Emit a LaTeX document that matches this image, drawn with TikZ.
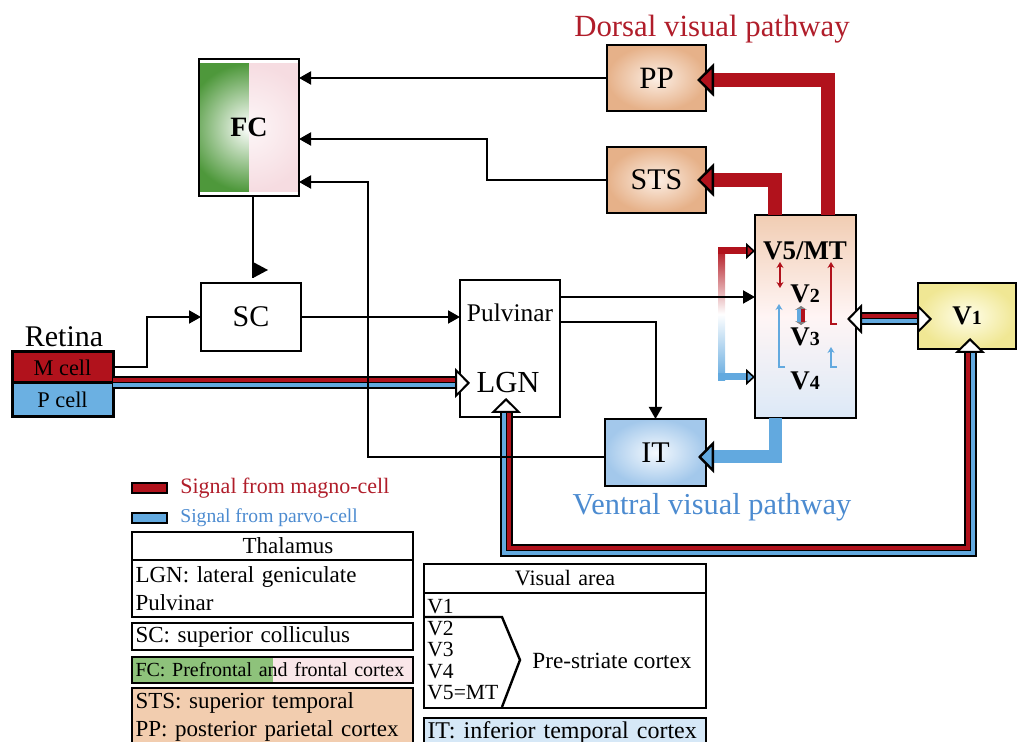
\documentclass[tikz,border=0pt]{standalone}
\usepackage{fontspec}
\setmainfont{Liberation Serif}
\usepackage{tikz}
\usetikzlibrary{positioning,arrows.meta,backgrounds}
\definecolor{mred}{HTML}{B1121C}
\definecolor{pblue}{HTML}{62A9DF}
\definecolor{pcell}{HTML}{6BB0E2}
\definecolor{dorsaltext}{HTML}{B01D2A}
\definecolor{ventraltext}{HTML}{4C8BD0}
\definecolor{peach}{HTML}{E6B189}
\definecolor{peachin}{HTML}{FCEFE5}
\definecolor{itblue}{HTML}{A3C8EB}
\definecolor{itin}{HTML}{F4F9FE}
\definecolor{vyel}{HTML}{F0E794}
\definecolor{vyin}{HTML}{FFFEEA}
\definecolor{vtop}{HTML}{F1CDB3}
\definecolor{vbot}{HTML}{DCE9F7}
\definecolor{fcgreen}{HTML}{4E983B}
\definecolor{fcpink}{HTML}{F6DCE1}
\definecolor{lgreen}{HTML}{8EC27B}
\definecolor{lpink}{HTML}{F9E6E9}
\definecolor{lpeach}{HTML}{F2CDAF}
\definecolor{lblue}{HTML}{D6E8F7}
\newcommand{\fsz}[1]{\fontsize{#1}{#1}\selectfont}
\tikzset{
  areabox/.style={draw, line width=1.2pt, outer sep=0pt, inner sep=0pt,
    minimum width=50pt, minimum height=33pt, font=\fsz{15}},
  peachbox/.style={areabox, inner color=peachin, outer color=peach},
  cellbox/.style={draw, line width=1.5pt, outer sep=0pt, inner sep=0pt,
    minimum width=50.5pt, font=\fsz{11.2}},
  vlabel/.style={inner sep=0pt, font=\bfseries\fsz{13.5}},
  linkarrow/.style={line width=1pt, -{Triangle[length=6pt, width=6.5pt]}},
  dorsalarrow/.style={mred, line width=7pt,
    -{Triangle[color=black, fill=mred, line width=1.2pt, length=8.5pt, width=16.5pt]}},
  ventralarrow/.style={pblue, line width=6.5pt,
    -{Triangle[color=black, fill=pblue, line width=1.2pt, length=8pt, width=16pt]}},
  bracketarrow/.style={line width=3.5pt,
    -{Triangle[color=black, fill=., line width=0.8pt, length=4.5pt, width=8pt]}},
  innerarrow/.style={line width=0.9pt, -{Stealth[length=3pt, width=3.5pt]}},
  sigback/.style={line width=6.5pt, shorten <=5pt, shorten >=5pt},
  sigred/.style={mred, line width=2pt, shorten <=5pt, shorten >=5pt},
  sigblue/.style={pblue, line width=2pt, shorten <=5pt, shorten >=5pt},
  sigtip/.style={line width=0.05pt,
    -{Triangle[fill=white, line width=1pt, length=7.5pt, width=15pt]}},
  swatch/.style={draw, line width=1.2pt, outer sep=0pt, inner sep=0pt,
    minimum width=17.5pt, minimum height=5pt},
  legbox/.style={draw, line width=1.2pt, anchor=north west, outer sep=0pt,
    inner xsep=1.75pt, inner ysep=0pt, text width=137pt, align=left,
    font=\fontsize{11.5}{14}\selectfont}
}
\begin{document}
\begin{tikzpicture}[x=0.5pt, y=-0.5pt]
\useasboundingbox (0,0) rectangle (1018,742);

% retina, colliculus, thalamus
\node[font=\fsz{15}] (retina) at (64,337) {Retina};
\node[cellbox, fill=mred, minimum height=15.5pt] (Mcell) at (62.5,367.5) {M cell};
\node[cellbox, fill=pcell, minimum height=17pt, below=0pt of Mcell] (Pcell) {P cell};
\node[areabox, minimum height=34pt] (SC) at (251,317) {SC};
\node[areabox, minimum height=68.5pt] (thal) at (510,348.5) {};
\node[font=\fsz{12.7}] (pulv) at (510,313) {Pulvinar};
\node[font=\fsz{15.3}] (lgn) at (508,383) {LGN};
\node[areabox, minimum height=68.5pt, font=\bfseries\fsz{14}] (FC) at (249,127.5) {FC};
\begin{scope}[on background layer]
  \begin{scope}
    \clip (FC.south west) rectangle (FC.north);
    \shade[inner color=white, outer color=fcgreen]
      ([shift={(-64,-64)}]FC.center) rectangle ([shift={(64,64)}]FC.center);
  \end{scope}
  \begin{scope}
    \clip (FC.south) rectangle (FC.north east);
    \shade[inner color=fcpink!25, outer color=fcpink]
      ([shift={(-64,-64)}]FC.center) rectangle ([shift={(64,64)}]FC.center);
  \end{scope}
\end{scope}

% cortical areas
\node[peachbox, minimum width=49.5pt, font=\fsz{15.5}] (PP) at (656.5,78) {PP};
\node[peachbox, minimum width=49.5pt] (STS) at (656.5,180) {STS};
\node[areabox, minimum width=50.5pt, minimum height=33.5pt,
  inner color=itin, outer color=itblue] (IT) at (655.5,452.5) {IT};
\node[areabox, minimum width=50.5pt, minimum height=101.5pt,
  top color=vtop, bottom color=vbot, middle color=white!96!red] (vbox) at (805.5,316.5) {};
\node[areabox, minimum width=49pt, inner color=vyin, outer color=vyel,
  font=\bfseries\fsz{13.5}] (V1) at (967,316) {V{\fsz{10}1}};
\node[vlabel] (v5mt) at (805,251) {V5/MT};
\node[vlabel] (v2) at (805,294) {V{\fsz{10}2}};
\node[vlabel] (v3) at (805,337) {V{\fsz{10}3}};
\node[vlabel] (v4) at (805,381) {V{\fsz{10}4}};
\node[anchor=base, font=\fsz{15.4}, text=dorsaltext] (dorsal) at (712,37) {Dorsal visual pathway};
\node[anchor=base, font=\fsz{15.2}, text=ventraltext] (ventral) at (712,515) {Ventral visual pathway};

% arrows inside V2-V5
\draw[innerarrow, mred, {Stealth[length=3pt, width=3.5pt]}-{Stealth[length=3pt, width=3.5pt]}]
  (780,262) -- (780,288);
\draw[innerarrow, mred] (837,324) -| (831,262);
\draw[innerarrow, pblue] (785,367) -| (779,304);
\draw[innerarrow, pblue] (837,367) -| (831,347);
\draw[gray, line width=0.5pt, {Stealth[length=2pt, width=6pt]}-{Stealth[length=2pt, width=6pt]}]
  (801,306) -- (801,325);
\fill[pblue] (797,309) rectangle (801,322);
\fill[mred] (801,309) rectangle (805,322);

% red/blue bracket into V5/MT and V4
\shade[top color=mred, bottom color=pblue, middle color=white] (718,247.5) rectangle (725,380.5);
\coordinate (brt) at (718,251);
\coordinate (brb) at (718,377);
\draw[bracketarrow, mred] (brt) -- (brt -| vbox.west);
\draw[bracketarrow, pblue] (brb) -- (brb -| vbox.west);

% dorsal and ventral pathways
\draw[dorsalarrow] ([xshift=11.25pt]vbox.north) |- ([xshift=-4.5pt,yshift=-1pt]PP.east);
\draw[dorsalarrow] ([xshift=-15.25pt]vbox.north) |- ([xshift=-4.5pt]STS.east);
\draw[ventralarrow] ([xshift=-15.25pt]vbox.south) |- ([xshift=-4pt,yshift=-2.25pt]IT.east);

% magno/parvo signal lines
\coordinate (lgnin) at (thal.west |- Mcell.south east);
\coordinate (lgntip) at ([xshift=5pt]lgnin);
\draw[sigback, shorten <=0pt] (Mcell.south east) -- (lgntip);
\draw[sigred, shorten <=0pt] ([yshift=1.25pt]Mcell.south east) -- ([yshift=1.25pt]lgntip);
\draw[sigblue, shorten <=0pt] ([yshift=-1.25pt]Mcell.south east) -- ([yshift=-1.25pt]lgntip);
\draw[sigtip] ([xshift=-1pt]lgntip) -- (lgntip);

\coordinate (vtip) at ([xshift=-4.5pt,yshift=-1.25pt]vbox.east);
\coordinate (v1tip) at ([xshift=7pt,yshift=-1.5pt]V1.west);
\draw[sigback] (vtip) -- (v1tip);
\draw[sigred] ([yshift=1.25pt]vtip) -- ([yshift=1.25pt]v1tip);
\draw[sigblue] ([yshift=-1.25pt]vtip) -- ([yshift=-1.25pt]v1tip);
\draw[sigtip] ([xshift=1pt]vtip) -- (vtip);
\draw[sigtip] ([xshift=-1pt]v1tip) -- (v1tip);

\coordinate (lgnfoot) at (lgn |- thal.south);
\coordinate (lgnport) at ([shift={(-2,-19)}]lgnfoot);
\coordinate (v1port) at ([shift={(3,-11)}]V1.south);
\draw[sigback] (lgnport) -- ++(0,153) -| (v1port);
\draw[sigred] ([xshift=1.25pt]lgnport) -- ++(0,150.5) -| ([xshift=-1.25pt]v1port);
\draw[sigblue] ([xshift=-1.25pt]lgnport) -- ++(0,155.5) -| ([xshift=1.25pt]v1port);
\draw[sigtip] ([yshift=-1pt]lgnport) -- (lgnport);
\draw[sigtip] ([yshift=-1pt]v1port) -- (v1port);

% black connections
\draw[linkarrow] (PP.west) -- (PP.west -| FC.east);
\draw[linkarrow] (STS.west) -- ++(-120,0) |- ([yshift=-5.75pt]FC.east);
\draw[linkarrow] ([yshift=-2.25pt]IT.west) -- ++(-237,0) |- ([yshift=-27.25pt]FC.east);
\draw[linkarrow] (Mcell.east) -- ++(34,0) |- (SC.west);
\draw[linkarrow] (SC.east) -- (SC.east -| thal.west);
\draw[linkarrow] ([yshift=-8.5pt]thal.north east) coordinate (pv) -- (pv -| vbox.west);
\draw[linkarrow] ([yshift=-21pt]thal.north east) -| (IT.north);
\draw[line width=1pt] ([xshift=2pt]FC.south) -- ++(0,82) coordinate (fcend);
\fill (fcend) -- ++(0,-16) -- ++(15,8) -- cycle;

% legend
\node[swatch, fill=mred] (magsw) at (149.5,488) {};
\node[right=6.5pt of magsw, inner sep=0pt, text=dorsaltext, font=\fsz{11}] (magtxt) {Signal from magno-cell};
\node[swatch, fill=pblue] (parsw) at (149.5,518) {};
\node[right=6.5pt of parsw, inner sep=0pt, text=ventraltext, font=\fsz{9.8}] (partxt) {Signal from parvo-cell};

\node[legbox, align=center, minimum height=14pt] (thalhead) at (132,532) {\hspace*{15.5pt}Thalamus};
\node[legbox, minimum height=28.5pt] (thalbody) at (132,560) {LGN: lateral geniculate\\Pulvinar};
\node[legbox, minimum height=13.5pt] (scleg) at (132,623) {SC: superior colliculus};
\node[legbox, minimum height=13pt, font=\fsz{10}] (fcleg) at (132,657) {FC: Prefrontal and frontal cortex};
\begin{scope}[on background layer]
  \fill[lpink] (fcleg.north west) rectangle (fcleg.south east);
  \fill[lgreen] (fcleg.north west) rectangle ([xshift=70.5pt]fcleg.south west);
\end{scope}
\node[legbox, minimum height=29pt, fill=lpeach] (ppleg) at (132,688) {STS: superior temporal\\PP: posterior parietal cortex};

\node[legbox, text width=137.5pt, align=center, minimum height=14.5pt, font=\fsz{11}] (vahead) at (424,564) {Visual area};
\node[legbox, text width=137.5pt, minimum height=57.5pt] (vabody) at (424,593) {};
\foreach \t [count=\i] in {V1,V2,V3,V4,V5=MT}
  \node[anchor=west, inner sep=0pt, font=\fsz{10.8}] (va\i) at (427,585.5+21.5*\i) {\t};
\draw[line width=1.2pt] (424,617) -- (502,617) -- (520,660) -- (502,707);
\node[font=\fsz{11.6}] (prestr) at (612,661) {Pre-striate cortex};
\node[legbox, text width=137.5pt, minimum height=15pt, fill=lblue, font=\fsz{12}] (itleg) at (424,718) {IT: inferior temporal cortex};
\end{tikzpicture}
\end{document}
